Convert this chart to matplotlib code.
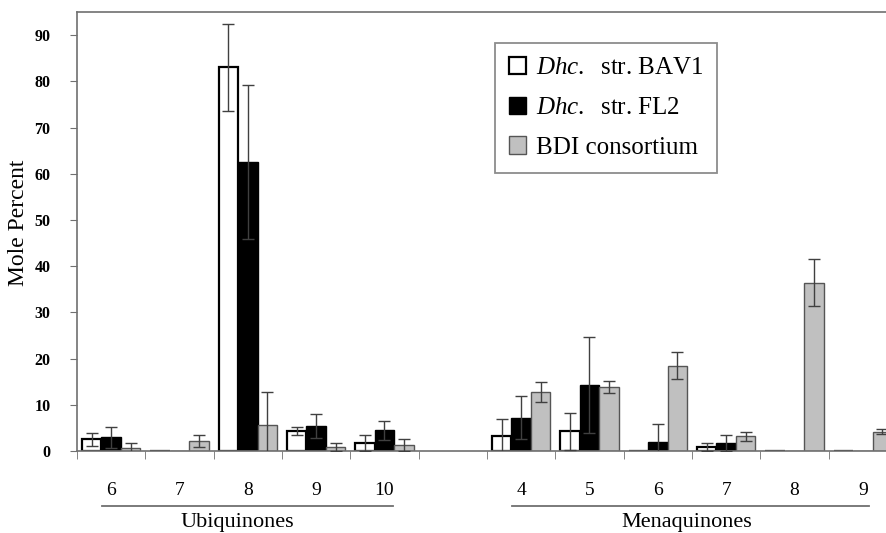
import matplotlib
matplotlib.use("Agg")
import matplotlib.pyplot as plt
from matplotlib.patches import Patch
import numpy as np

plt.rcParams['font.family'] = ['Liberation Serif', 'DejaVu Serif']
plt.rcParams['mathtext.fontset'] = 'custom'
plt.rcParams['mathtext.it'] = 'Liberation Serif:italic'
plt.rcParams['mathtext.rm'] = 'Liberation Serif'

# categories: ubiquinones 6-10, one empty slot, menaquinones 4-9
ubi_labels = ['6', '7', '8', '9', '10']
mena_labels = ['4', '5', '6', '7', '8', '9']
positions = [0, 1, 2, 3, 4, 6, 7, 8, 9, 10, 11]
tick_labels = ubi_labels + mena_labels

# mole percent
bav1 = [2.5, 0, 83.0, 4.3, 1.7, 3.2, 4.3, 0, 0.8, 0, 0]
bav1_err = [1.5, 0, 9.4, 0.8, 1.8, 3.7, 4.0, 0, 0.9, 0, 0]
fl2 = [3.0, 0, 62.5, 5.4, 4.5, 7.2, 14.3, 2.0, 1.7, 0, 0]
fl2_err = [2.3, 0, 16.6, 2.5, 2.1, 4.7, 10.4, 3.8, 1.8, 0, 0]
bdi = [0.7, 2.2, 5.6, 0.8, 1.3, 12.7, 13.8, 18.5, 3.2, 36.4, 4.2]
bdi_err = [1.1, 1.3, 7.2, 0.9, 1.3, 2.2, 1.3, 3.0, 1.0, 5.1, 0.6]

series = [
    (bav1, bav1_err, 'white', 'black', 1.6, -0.285),
    (fl2, fl2_err, 'black', 'black', 1.0, 0.0),
    (bdi, bdi_err, '#c0c0c0', '#555555', 1.0, 0.285),
]

fig = plt.figure(figsize=(8.86, 5.33), dpi=100)
# the plot runs past the right edge of the picture, as in the original
ax = fig.add_axes([77 / 886, 82 / 533, 820 / 886, 439 / 533])

x = np.array(positions, dtype=float)
for vals, errs, fc, ec, lw, off in series:
    vals = np.array(vals)
    errs = np.array(errs)
    ax.bar(x + off, vals, width=0.285, color=fc, edgecolor=ec, linewidth=lw, zorder=2)
    m = errs > 0
    ax.errorbar(x[m] + off, vals[m], yerr=errs[m], fmt='none', ecolor='#404040',
                elinewidth=1.0, capsize=4.3, capthick=1.0, zorder=3)

ax.set_xlim(-0.5, 11.5)
ax.set_ylim(0, 95)

for s in ['left', 'top', 'bottom', 'right']:
    ax.spines[s].set_color('#707070')
    ax.spines[s].set_linewidth(1.2)

ax.set_yticks(np.arange(0, 91, 10))
ax.tick_params(axis='y', length=5, color='#707070', pad=14, labelsize=11.5)
for lab in ax.get_yticklabels():
    lab.set_fontweight('bold')

ax.set_xticks(positions)
ax.set_xticklabels(tick_labels, fontsize=14)
ax.tick_params(axis='x', which='major', length=0, pad=22)
ax.set_xticks(np.arange(-0.5, 11.6, 1.0), minor=True)
ax.tick_params(axis='x', which='minor', length=6, color='#707070')

ax.set_ylabel('Mole Percent', fontsize=17)
ax.yaxis.set_label_coords(-0.059, 0.52)

# group brackets under the tick labels
tr = ax.get_xaxis_transform()
ax.plot([-0.13, 4.12], [-0.125, -0.125], transform=tr, color='#707070', lw=1.3, clip_on=False)
ax.plot([5.86, 11.09], [-0.125, -0.125], transform=tr, color='#707070', lw=1.3, clip_on=False)
ax.text(1.85, -0.164, 'Ubiquinones', transform=tr, ha='center', va='center', fontsize=16)
ax.text(8.42, -0.164, 'Menaquinones', transform=tr, ha='center', va='center', fontsize=16)

handles = [
    Patch(facecolor='white', edgecolor='black', linewidth=1.6),
    Patch(facecolor='black', edgecolor='black'),
    Patch(facecolor='#c0c0c0', edgecolor='#555555'),
]
labels = [r'$Dhc.$  str. BAV1', r'$Dhc.$  str. FL2', 'BDI consortium']
leg = ax.legend(handles, labels, loc='upper left',
                bbox_to_anchor=((495 - 77) / 820, (451 - 43) / 439),
                fontsize=18, frameon=True, fancybox=False, handlelength=0.68,
                handleheight=0.68, handletextpad=0.4, labelspacing=0.7,
                borderpad=0.55, borderaxespad=0)
leg.get_frame().set_edgecolor('#707070')
leg.get_frame().set_linewidth(1.3)

fig.savefig('out.png', dpi=100)
